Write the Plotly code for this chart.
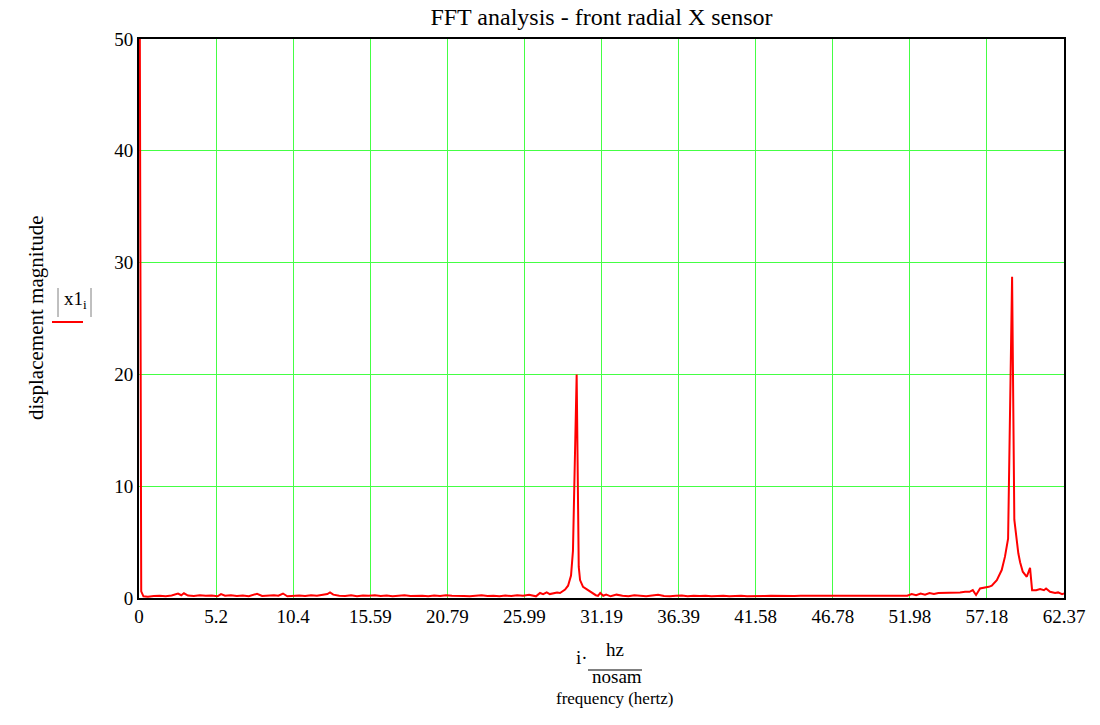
import plotly.graph_objects as go

# ---- data ----
# segment A: DC spike and noise floor 0 .. 26.3 Hz
freq_a = [0, 0.15, 0.3, 0.6, 1.0, 1.4, 1.8, 2.2, 2.63, 2.85, 3.03, 3.3, 3.7, 4.1, 4.5,
          4.9, 5.3, 5.53, 5.8, 6.2, 6.6, 7.0, 7.4, 7.7, 7.96, 8.3, 8.7, 9.1, 9.4, 9.71,
          10.0, 10.4, 10.8, 11.2, 11.6, 12.0, 12.4, 12.7, 12.88, 13.1, 13.5, 13.9, 14.3,
          14.7, 15.1, 15.5, 15.9, 16.3, 16.7, 17.1, 17.5, 17.9, 18.3, 18.7, 19.1, 19.5,
          19.9, 20.3, 20.7, 21.1, 21.5, 21.9, 22.3, 22.7, 23.1, 23.5, 23.9, 24.3, 24.7,
          25.1, 25.5, 25.9, 26.3]
mag_a = [80, 0.6, 0.15, 0.12, 0.18,
         0.2, 0.15, 0.22, 0.4, 0.25,
         0.42, 0.22, 0.18, 0.25, 0.2,
         0.22, 0.15, 0.35, 0.2, 0.25,
         0.18, 0.22, 0.15, 0.25, 0.38,
         0.18, 0.22, 0.25, 0.2, 0.4,
         0.15, 0.2, 0.22, 0.18, 0.25,
         0.2, 0.3, 0.35, 0.5, 0.3,
         0.2, 0.18, 0.25, 0.15, 0.22,
         0.2, 0.25, 0.18, 0.22, 0.15,
         0.2, 0.25, 0.18, 0.22, 0.2,
         0.15, 0.22, 0.18, 0.25, 0.2,
         0.22, 0.18, 0.15, 0.2, 0.25,
         0.18, 0.2, 0.15, 0.22, 0.18,
         0.25, 0.2, 0.28]

# segment B: first peak (~29.5 Hz)
freq_b = [26.77, 27.04, 27.25, 27.49, 27.7, 27.92, 28.19, 28.39, 28.6, 28.73, 28.93,
          29.13, 29.26, 29.51, 29.65, 29.74, 29.94, 30.15, 30.4, 30.6, 30.8, 30.95,
          31.1, 31.3, 31.5]
mag_b = [0.15, 0.45, 0.35, 0.5, 0.35, 0.4, 0.5, 0.45, 0.6, 0.75, 1.1,
         2.0, 4.2, 20.0, 2.8, 1.6, 1.0, 0.8, 0.6, 0.45, 0.25, 0.2,
         0.45, 0.2, 0.3]

# segment C: flat floor 31.8 .. 51.8 Hz
freq_c = [31.8, 32.2, 32.6, 33.0, 33.4, 33.8, 34.2, 34.6, 35.0, 35.4, 35.8, 36.2, 36.6,
          37.0, 37.4, 37.8, 38.2, 38.6, 39.0, 39.4, 39.8, 40.2, 40.6, 41.0, 41.4, 41.8,
          42.2, 42.6, 43.0, 43.4, 43.8, 44.2, 44.6, 45.0, 45.4, 45.8, 46.2, 46.6, 47.0,
          47.4, 47.8, 48.2, 48.6, 49.0, 49.4, 49.8, 50.2, 50.6, 51.0, 51.4, 51.8]
mag_c = [0.15, 0.3, 0.2, 0.15, 0.25, 0.2, 0.15, 0.22, 0.3, 0.18,
         0.15, 0.2, 0.22, 0.15, 0.2, 0.18, 0.2, 0.15, 0.18, 0.2,
         0.15, 0.18, 0.2, 0.15, 0.18, 0.2, 0.18, 0.2, 0.18, 0.2,
         0.2, 0.18, 0.2, 0.2, 0.18, 0.2, 0.2, 0.18, 0.2, 0.2,
         0.2, 0.2, 0.18, 0.2, 0.2, 0.2, 0.2, 0.2, 0.18, 0.2,
         0.2]

# segment D: second peak (~58.9 Hz) and tail
freq_d = [52.1, 52.4, 52.7, 53.0, 53.3, 53.6, 53.9, 54.21, 54.5, 54.8, 55.1, 55.36,
          55.7, 56.0, 56.22, 56.44, 56.71, 57.0, 57.3, 57.5, 57.84, 58.17, 58.39, 58.6,
          58.87, 59.02, 59.18, 59.29, 59.41, 59.59, 59.86, 60.08, 60.22, 60.49, 60.76,
          61.02, 61.16, 61.43, 61.77, 61.97, 62.24, 62.37]
mag_d = [0.35, 0.25, 0.4, 0.3, 0.45,
         0.35, 0.45, 0.45, 0.45, 0.5,
         0.5, 0.5, 0.55, 0.55, 0.7,
         0.27, 0.85, 0.9, 1.0, 1.1,
         1.6, 2.5, 3.7, 5.3, 28.74,
         7.0, 4.9, 4.0, 3.2, 2.35,
         1.9, 2.7, 0.7, 0.7, 0.8,
         0.7, 0.85, 0.55, 0.45, 0.5,
         0.35, 0.4]

x_tickvals = [0, 5.1975, 10.395, 15.5925, 20.79, 25.9875, 31.185, 36.3825, 41.58,
              46.7775, 51.975, 57.1725, 62.37]
x_ticktext = ["0", "5.2", "10.4", "15.59", "20.79", "25.99", "31.19", "36.39", "41.58",
              "46.78", "51.98", "57.18", "62.37"]
y_tickvals = [0, 10, 20, 30, 40, 50]

freq = freq_a + freq_b + freq_c + freq_d
mag = mag_a + mag_b + mag_c + mag_d

# ---- layout geometry (pixels) ----
W, H = 1100, 725
L, R, T, B = 139, 1064, 39, 598
PW, PH = R - L, B - T


def px(x):
    return (x - L) / PW


def py(y):
    return (B - y) / PH


FONT = "Liberation Serif, Times New Roman, serif"
GRID = "#44ff44"

fig = go.Figure()
fig.add_trace(go.Scatter(x=freq, y=mag, mode="lines",
                         line=dict(color="#ff0000", width=2),
                         showlegend=False, hoverinfo="x+y"))

fig.update_layout(
    width=W, height=H,
    margin=dict(l=L, r=W - R, t=T, b=H - B, pad=0),
    paper_bgcolor="white", plot_bgcolor="white",
    font=dict(family=FONT, size=19, color="black"),
    title=dict(text="FFT analysis - front radial X sensor", x=px(601.5), xref="paper",
               xanchor="center", y=1 - 17 / H, yanchor="middle",
               font=dict(family=FONT, size=24, color="black")),
    xaxis=dict(range=[0, 62.37], tickmode="array", tickvals=x_tickvals,
               ticktext=x_ticktext, showgrid=True, gridcolor=GRID, gridwidth=1,
               zeroline=False, showline=True, linecolor="black", linewidth=2,
               mirror=True, ticks="", tickfont=dict(family=FONT, size=19)),
    yaxis=dict(range=[0, 50], tickmode="array", tickvals=y_tickvals,
               showgrid=True, gridcolor=GRID, gridwidth=1,
               zeroline=False, showline=True, linecolor="black", linewidth=2,
               mirror=True, ticks="", tickfont=dict(family=FONT, size=19)),
)

ann = []
# y axis title
ann.append(dict(text="displacement magnitude", x=px(22), y=py(318), xref="paper",
                yref="paper", showarrow=False, textangle=-90,
                font=dict(family=FONT, size=21)))
# |x1_i| label
ann.append(dict(text="x1<sub>i</sub>", x=px(62), y=py(300), xref="paper", yref="paper",
                xanchor="left", showarrow=False, font=dict(family=FONT, size=19)))
# x label fraction
ann.append(dict(text="i·", x=px(582), y=py(670), xref="paper", yref="paper",
                showarrow=False, font=dict(family=FONT, size=19)))
ann.append(dict(text="hz", x=px(615), y=py(662), xref="paper", yref="paper",
                showarrow=False, font=dict(family=FONT, size=19)))
ann.append(dict(text="nosam", x=px(617), y=py(689), xref="paper", yref="paper",
                showarrow=False, font=dict(family=FONT, size=19)))
ann.append(dict(text="frequency (hertz)", x=px(615), y=py(710), xref="paper", yref="paper",
                showarrow=False, font=dict(family=FONT, size=17)))
fig.update_layout(annotations=ann)

shapes = []
# fraction bar
shapes.append(dict(type="line", xref="paper", yref="paper", x0=px(588), x1=px(642),
                   y0=py(670), y1=py(670), line=dict(color="black", width=1)))
# abs bars
for xb in (58, 91):
    shapes.append(dict(type="line", xref="paper", yref="paper", x0=px(xb), x1=px(xb),
                       y0=py(288), y1=py(317), line=dict(color="#808080", width=1)))
# red legend underline
shapes.append(dict(type="line", xref="paper", yref="paper", x0=px(52), x1=px(83),
                   y0=py(322), y1=py(322), line=dict(color="#ff0000", width=2)))
fig.update_layout(shapes=shapes)

fig.write_html("out.html")
